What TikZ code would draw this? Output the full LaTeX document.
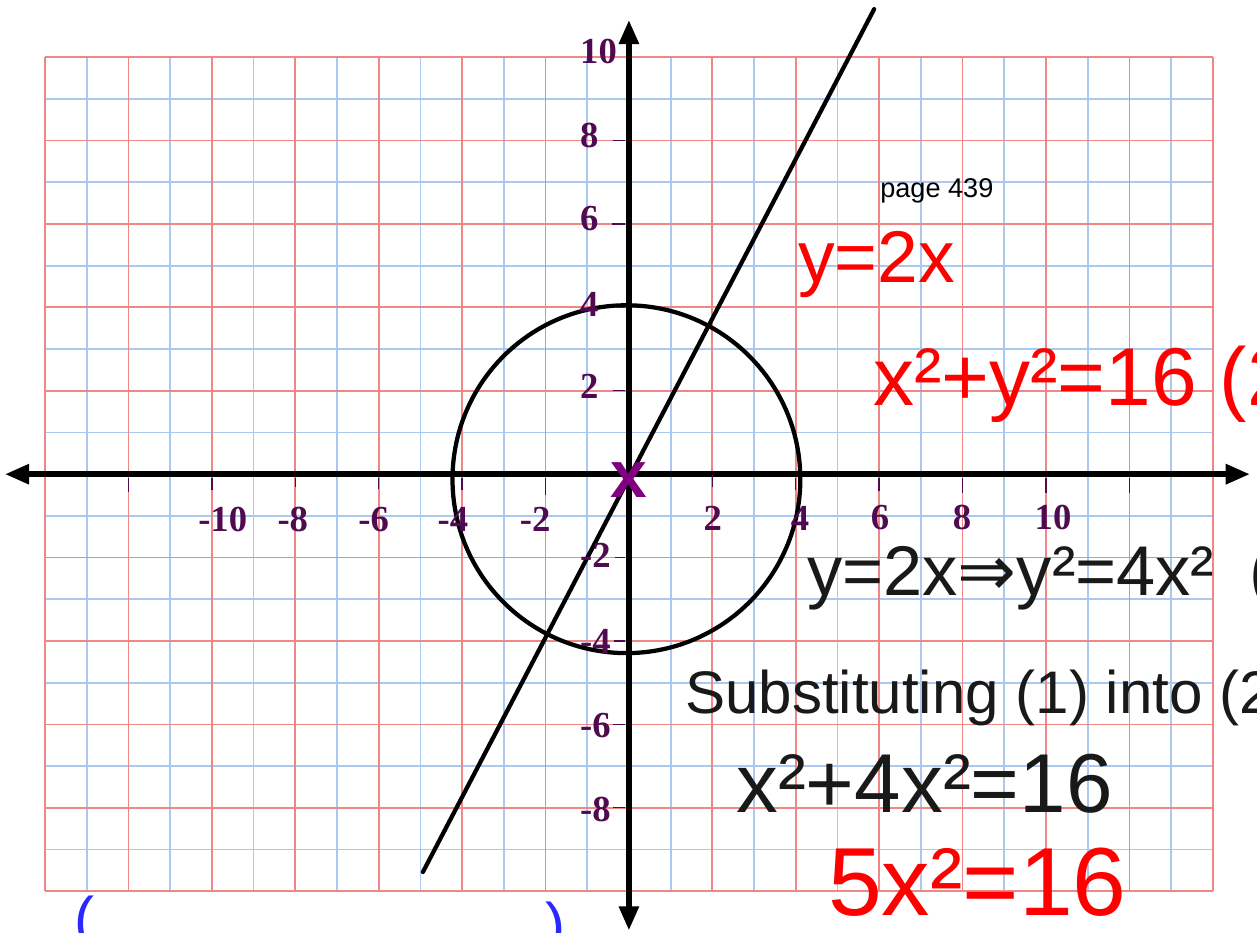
\documentclass[tikz,border=0pt]{standalone}
\usepackage{fontspec}
\setmainfont{Liberation Serif}
\setsansfont{Liberation Sans}
\newfontfamily\arrowfont{DejaVu Sans}
\usetikzlibrary{arrows.meta}
\usepackage{xcolor}
\definecolor{gridred}{RGB}{240,135,135}
\definecolor{gridblue}{RGB}{170,200,240}
\definecolor{labelpurple}{RGB}{80,10,80}
\definecolor{markpurple}{RGB}{128,0,128}
\definecolor{inkred}{RGB}{255,0,0}
\definecolor{inkblack}{RGB}{25,25,25}
\definecolor{inkblue}{RGB}{40,40,255}

\begin{document}
\begin{tikzpicture}
  \tikzset{
    axis/.style={
      line width=3.8pt,
      {Triangle[length=0.58cm,width=0.46cm]}-{Triangle[length=0.58cm,width=0.46cm]}
    },
    curve/.style={
      line width=2.9pt,
      line cap=round
    },
    tick/.style={
      draw=labelpurple,
      line width=0.9pt
    },
    axislabel/.style={
      font=\bfseries\fontsize{25}{25}\selectfont,
      text=labelpurple,
      inner sep=0pt
    },
    redink/.style={
      font=\sffamily\fontsize{#1}{#1}\selectfont,
      text=inkred,
      inner sep=0pt,
      anchor=base west
    },
    blackink/.style={
      font=\sffamily\fontsize{#1}{#1}\selectfont,
      text=inkblack,
      inner sep=0pt,
      anchor=base west
    }
  }

  % Page size and clipping
  \useasboundingbox (-15.08,-10.98) rectangle (15.06,11.37);
  \clip (-15.08,-10.98) rectangle (15.06,11.37);
  \fill[white] (-15.08,-10.98) rectangle (15.06,11.37);

  % Draw the graph paper
  \draw[gridblue, line width=1.2pt] (-14,-10) grid (14,10);
  \draw[gridred, line width=1.2pt] (-14,-10) grid[step=2] (14,10);

  % Circle and line
  \draw[curve] (-0.06,-0.12) circle[radius=4.17];
  \coordinate (lineA) at (-4.94,-9.54);
  \coordinate (lineB) at (5.88,11.15);
  \draw[curve] (lineA) -- (lineB);

  % Axes
  \coordinate (xleft) at (-14.96,0);
  \coordinate (xright) at (14.89,0);
  \coordinate (ybottom) at (0,-10.94);
  \coordinate (ytop) at (0,10.89);
  \draw[axis] (xleft) -- (xright);
  \draw[axis] (ybottom) -- (ytop);

  % Tick marks on the x axis
  \draw[tick] (-12,-0.08) -- (-12,-0.42);
  \draw[tick] (-10,-0.08) -- (-10,-0.38);
  \draw[tick] (-8,-0.08) -- (-8,-0.3);
  \draw[tick] (-6,-0.08) -- (-6,-0.36);
  \draw[tick] (-4,-0.08) -- (-4,-0.38);
  \draw[tick] (-2,-0.08) -- (-2,-0.5);
  \draw[tick] (2,-0.02) -- (2,-0.3);
  \draw[tick] (4,-0.08) -- (4,-0.38);
  \draw[tick] (6,-0.08) -- (6,-0.4);
  \draw[tick] (8,-0.08) -- (8,-0.45);
  \draw[tick] (10,-0.08) -- (10,-0.45);
  \draw[tick] (12,-0.08) -- (12,-0.45);

  % Tick marks on the y axis
  \draw[tick] (-0.38,8) -- (-0.1,8);
  \draw[tick] (-0.4,6) -- (-0.1,6);
  \draw[tick] (-0.36,4) -- (-0.1,4);
  \draw[tick] (-0.38,2) -- (-0.1,2);
  \draw[tick] (-0.34,-2) -- (-0.1,-2);
  \draw[tick] (-0.36,-4) -- (-0.1,-4);
  \draw[tick] (-0.38,-6) -- (-0.1,-6);
  \draw[tick] (-0.38,-8) -- (-0.1,-8);

  % Labels on the x axis
  \node[axislabel] at (-9.74,-1.08) (xlabm10) {-10};
  \node[axislabel] at (-8.06,-1.08) (xlabm8) {-8};
  \node[axislabel] at (-6.12,-1.08) (xlabm6) {-6};
  \node[axislabel] at (-4.22,-1.08) (xlabm4) {-4};
  \node[axislabel] at (-2.25,-1.08) (xlabm2) {-2};
  \node[axislabel] at (2.01,-1.05) (xlab2) {2};
  \node[axislabel] at (4.1,-1.05) (xlab4) {4};
  \node[axislabel] at (6.02,-1.05) (xlab6) {6};
  \node[axislabel] at (7.99,-1.05) (xlab8) {8};
  \node[axislabel] at (10.17,-1.05) (xlab10) {10};

  % Labels on the y axis
  \node[axislabel, anchor=west] at (-1.175,10.14) (ylab10) {10};
  \node[axislabel, anchor=west] at (-1.175,8.13) (ylab8) {8};
  \node[axislabel, anchor=west] at (-1.175,6.12) (ylab6) {6};
  \node[axislabel, anchor=west] at (-1.175,4.08) (ylab4) {4};
  \node[axislabel, anchor=west] at (-1.175,2.11) (ylab2) {2};
  \node[axislabel, anchor=west] at (-1.175,-1.94) (ylabm2) {-2};
  \node[axislabel, anchor=west] at (-1.175,-4.0) (ylabm4) {-4};
  \node[axislabel, anchor=west] at (-1.175,-6.02) (ylabm6) {-6};
  \node[axislabel, anchor=west] at (-1.175,-8.03) (ylabm8) {-8};

  % Mark at the origin
  \node[font=\sffamily\bfseries\fontsize{45}{45}\selectfont, text=markpurple, inner sep=0pt]
    at (0,-0.14) (origmark) {x};

  % Page reference
  \node[font=\sffamily\fontsize{18.5}{18.5}\selectfont, inner sep=0pt, anchor=base west]
    at (6.02,6.64) (pageref) {page 439};

  % Working written on the page
  \node[redink=50] at (4.05,4.6) (eqline) {y=2x};
  \node[redink=56] at (5.85,1.65) (eqcircle) {x²+y²=16 (2};
  \node[blackink=48] at (4.27,-2.9) (eqsquare) {y=2x{\arrowfont ⇒}y²=4x²\hspace{0.5em}(};
  \node[blackink=41] at (1.34,-5.73) (eqsubst) {Substituting (1) into (2};
  \node[blackink=57] at (2.57,-8.1) (eqsum) {x²+4x²=16};
  \node[redink=66] at (4.77,-10.58) (eqfive) {5x²=16};

  % Brackets cut off at the bottom
  \node[font=\sffamily\fontsize{41}{41}\selectfont, text=inkblue, inner sep=0pt, anchor=north west]
    at (-13.3,-10.1) (parenL) {(};
  \node[font=\sffamily\fontsize{41}{41}\selectfont, text=inkblue, inner sep=0pt, anchor=north west]
    at (-2.0,-10.26) (parenR) {)};
\end{tikzpicture}
\end{document}
